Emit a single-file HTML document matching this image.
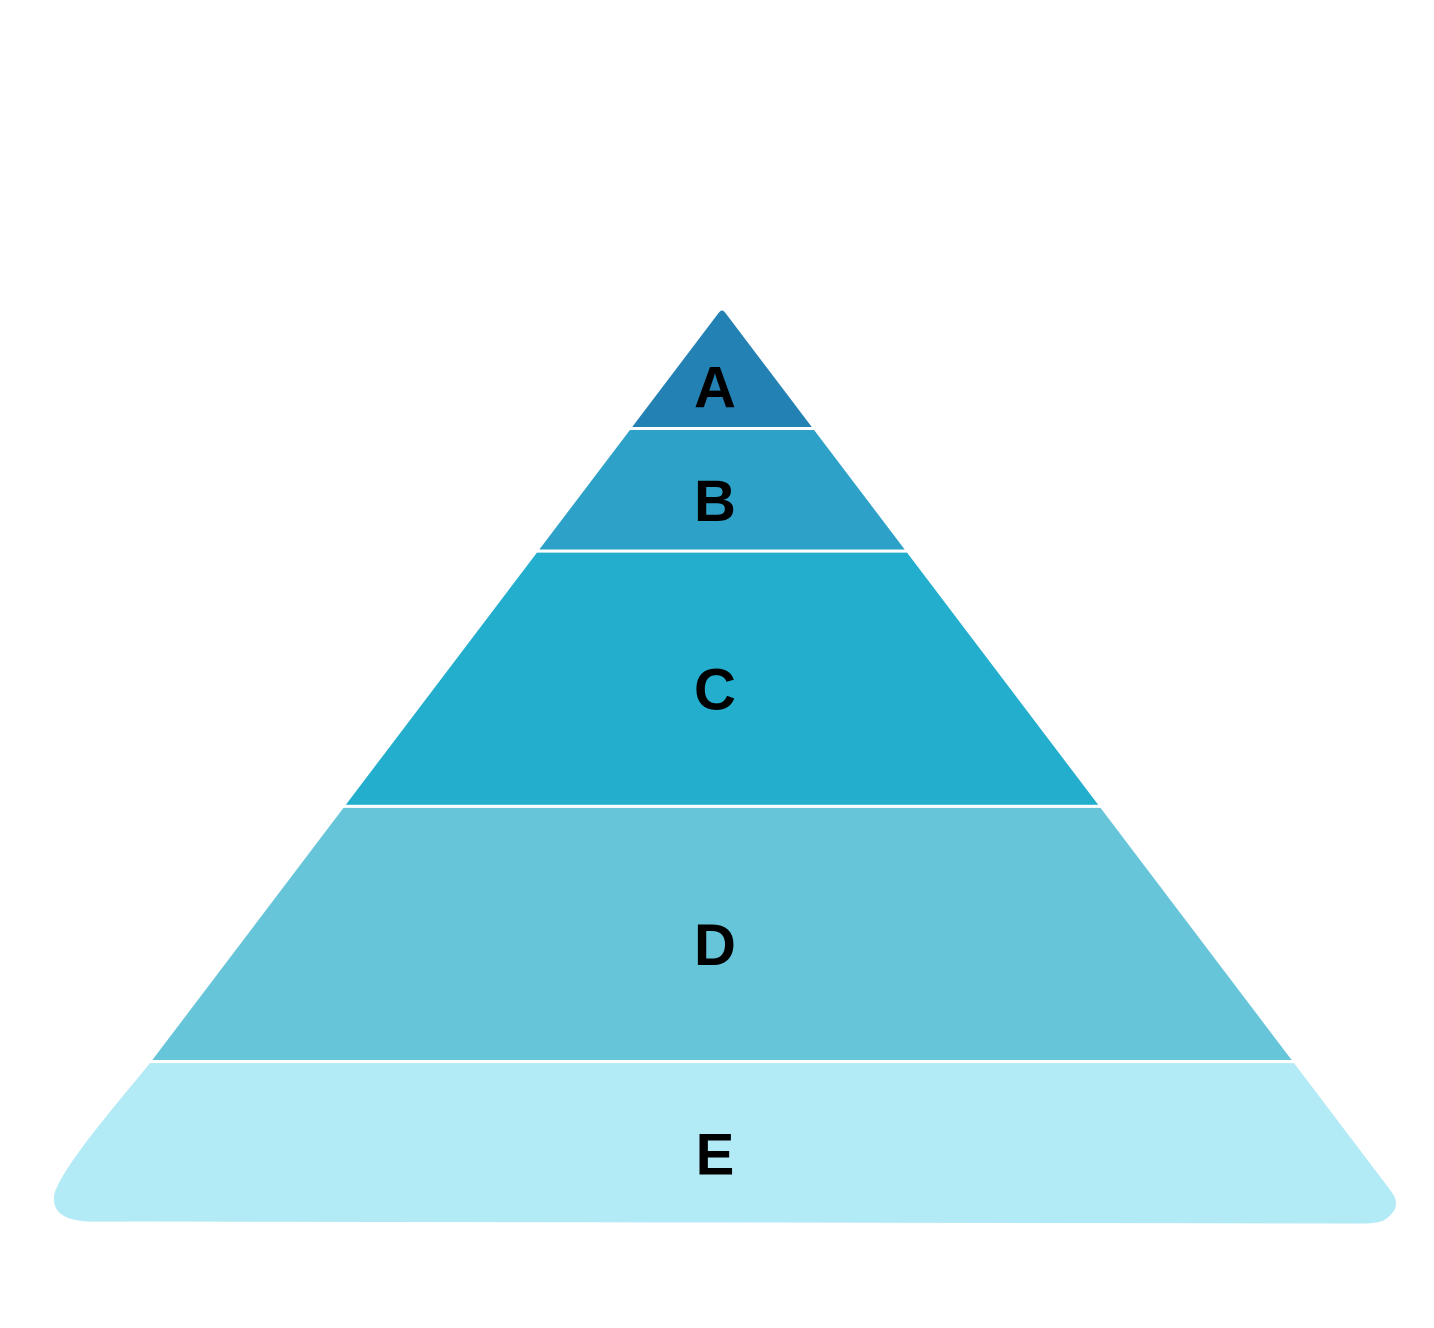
<!DOCTYPE html>
<html><head><meta charset="utf-8"><style>
html,body{margin:0;padding:0;background:#fff;}
svg{display:block;}
text{font-family:"Liberation Sans",sans-serif;font-weight:bold;font-size:58px;fill:#000;}
</style></head><body>
<svg id="chart" width="1434" height="1328"></svg>
<script>
const categories = ["A","B","C","D","E"];
const values = [12, 12, 25, 25, 16];
const colors = ["#2481b4","#2ea1c8","#22aecc","#67c5da","#b2eaf5"];

const svg = document.getElementById('chart');
const NS = 'http://www.w3.org/2000/svg';
const apexY = 306, baseY = 1225, cx = 722, slope = 0.758;
const total = values.reduce((a,b)=>a+b,0);
const yScale = v => apexY + v / total * (baseY - apexY);
const halfW = y => (y - apexY) * slope;

let cum = 0;
categories.forEach((cat, i) => {
  const y0 = yScale(cum);
  cum += values[i];
  const y1 = yScale(cum);
  const w0 = halfW(y0), w1 = halfW(y1);
  let d;
  if (i === 0) {
    const r = 6;
    const ty = y0 + r;
    d = `M${cx - halfW(ty)},${ty} Q${cx},${y0} ${cx + halfW(ty)},${ty} L${cx + w1},${y1} L${cx - w1},${y1} Z`;
  } else if (i === categories.length - 1) {
    const ly = y1 - 35;
    const rx = cx + halfW(ly);
    d = `M${cx - w0},${y0} L${cx + w0},${y0} L${rx},${ly} Q${rx + 14},${ly + 18} ${rx - 8},${y1 - 3} Q${rx - 16},${y1} ${rx - 30},${y1} L${88},${y1 - 2} Q${48},${y1 - 4} ${53},${y1 - 32} C${62},${y1 - 60} ${110},${y0 + 48} ${cx - w0},${y0} Z`;
  } else {
    d = `M${cx - w0},${y0} L${cx + w0},${y0} L${cx + w1},${y1} L${cx - w1},${y1} Z`;
  }
  const p = document.createElementNS(NS, 'path');
  p.setAttribute('d', d);
  p.setAttribute('fill', colors[i]);
  p.setAttribute('stroke', '#fff');
  p.setAttribute('stroke-width', '3');
  
  
  svg.appendChild(p);
  const t = document.createElementNS(NS, 'text');
  t.setAttribute('x', cx - 7);
  t.setAttribute('y', (y0 + y1) / 2 + (i === 0 ? 40 : 31));
  t.setAttribute('text-anchor', 'middle');
  t.textContent = cat;
  
  
  svg.appendChild(t);
});
</script>
</body></html>
